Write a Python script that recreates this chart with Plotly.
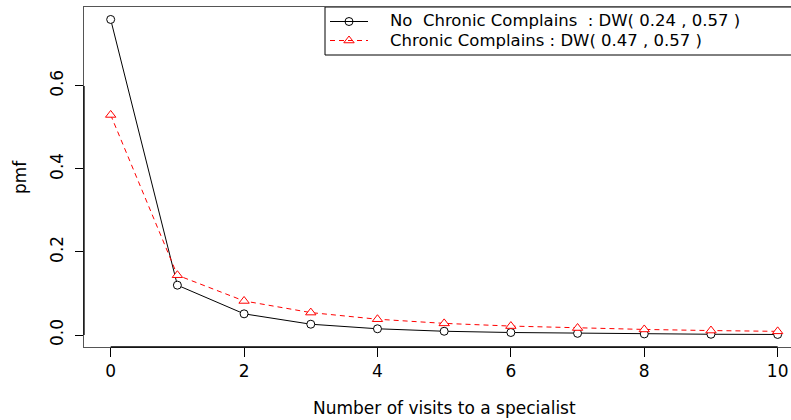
import plotly.graph_objects as go

# ---- data ----
visits = [0, 1, 2, 3, 4, 5, 6, 7, 8, 9, 10]
pmf_no_chronic = [0.760, 0.120, 0.051, 0.026, 0.015, 0.009, 0.006, 0.004, 0.0026, 0.0018, 0.0013]
pmf_chronic = [0.530, 0.144, 0.082, 0.054, 0.038, 0.028, 0.0215, 0.0168, 0.0134, 0.0107, 0.0088]
x_ticks = [0, 2, 4, 6, 8, 10]
y_ticks = [0.0, 0.2, 0.4, 0.6]
y_tick_labels = ["0.0", "0.2", "0.4", "0.6"]
legend_labels = ["No  Chronic Complains  : DW( 0.24 , 0.57 )",
                 "Chronic Complains : DW( 0.47 , 0.57 )"]
x_title = "Number of visits to a specialist"
y_title = "pmf"

FONT = "DejaVu Sans"
FS = 17
LFS = 16.5
W, H = 791, 420
L, R, T, B = 84, 0, 7, 73
PW, PH = W - L - R, H - T - B


def px(xp):
    return (xp - L) / PW


def py(yp):
    return (H - B - yp) / PH


fig = go.Figure()
fig.add_trace(go.Scatter(
    x=visits, y=pmf_no_chronic, mode="lines+markers",
    line=dict(color="black", width=1),
    marker=dict(symbol="circle", size=8, color="white", line=dict(color="black", width=1)),
    showlegend=False, cliponaxis=False))
fig.add_trace(go.Scatter(
    x=visits, y=pmf_chronic, mode="lines+markers",
    line=dict(color="red", width=1, dash="5px,4px"),
    marker=dict(symbol="triangle-up", size=9, color="white", line=dict(color="red", width=1)),
    showlegend=False, cliponaxis=False))

# legend glyphs on an overlay axis spanning the plot area (paper-like)
leg_text_y = [20.5, 40.5]
leg_y = [py(21.5), py(40.5)]
leg_sym_x = px(349)
fig.add_trace(go.Scatter(
    x=[leg_sym_x], y=[leg_y[0]], xaxis="x2", yaxis="y2", mode="markers",
    marker=dict(symbol="circle", size=8, color="white", line=dict(color="black", width=1)),
    showlegend=False, cliponaxis=False, hoverinfo="skip"))
fig.add_trace(go.Scatter(
    x=[leg_sym_x], y=[leg_y[1]], xaxis="x2", yaxis="y2", mode="markers",
    marker=dict(symbol="triangle-up", size=9, color="white", line=dict(color="red", width=1)),
    showlegend=False, cliponaxis=False, hoverinfo="skip"))

shapes = []
# legend box
shapes.append(dict(type="rect", xref="paper", yref="paper",
                   x0=px(325), x1=1.03, y0=py(55), y1=1.0,
                   line=dict(color="black", width=1), fillcolor="white", layer="below"))
shapes.append(dict(type="line", xref="paper", yref="paper",
                   x0=px(330), x1=px(368), y0=leg_y[0], y1=leg_y[0],
                   line=dict(color="black", width=1)))
shapes.append(dict(type="line", xref="paper", yref="paper",
                   x0=px(330), x1=px(368), y0=leg_y[1], y1=leg_y[1],
                   line=dict(color="red", width=1, dash="5px,4px")))
# R-style axis lines (first to last tick)
shapes.append(dict(type="line", xref="paper", yref="y", x0=0, x1=0,
                   y0=y_ticks[0], y1=y_ticks[-1], line=dict(color="black", width=1.3)))
shapes.append(dict(type="line", xref="x", yref="paper", x0=x_ticks[0], x1=x_ticks[-1],
                   y0=0, y1=0, line=dict(color="black", width=1.3)))

annotations = [
    dict(text=legend_labels[0], xref="paper", yref="paper", x=px(388), y=py(leg_text_y[0]),
         xanchor="left", yanchor="middle", showarrow=False,
         font=dict(family=FONT, size=LFS, color="black")),
    dict(text=legend_labels[1], xref="paper", yref="paper", x=px(388), y=py(leg_text_y[1]),
         xanchor="left", yanchor="middle", showarrow=False,
         font=dict(family=FONT, size=LFS, color="black")),
    dict(text=x_title, xref="paper", yref="paper", x=px(444), y=py(408),
         xanchor="center", yanchor="middle", showarrow=False,
         font=dict(family=FONT, size=FS, color="black")),
    dict(text=y_title, xref="paper", yref="paper", x=px(20), y=py(177),
         xanchor="center", yanchor="middle", showarrow=False, textangle=-90,
         font=dict(family=FONT, size=FS, color="black")),
]

fig.update_layout(
    width=W, height=H,
    margin=dict(l=L, r=R, t=T, b=B, pad=0),
    paper_bgcolor="white", plot_bgcolor="white",
    font=dict(family=FONT, size=FS, color="black"),
    shapes=shapes, annotations=annotations,
    xaxis=dict(range=[-0.4, 10.2], tickvals=x_ticks, ticktext=[str(v) for v in x_ticks],
               ticks="outside", ticklen=9, tickcolor="black", tickwidth=1,
               showgrid=False, zeroline=False, automargin=False,
               showline=True, mirror=True, linecolor="#555555", linewidth=1,
               tickfont=dict(family=FONT, size=FS, color="black")),
    yaxis=dict(range=[-0.0289, 0.790], tickvals=y_ticks, ticktext=y_tick_labels,
               ticks="outside", ticklen=8, tickcolor="black", tickwidth=1,
               tickangle=-90, showgrid=False, zeroline=False, automargin=False,
               showline=True, mirror=False, linecolor="#555555", linewidth=1,
               ticklabelstandoff=5,
               tickfont=dict(family=FONT, size=FS, color="black")),
    xaxis2=dict(range=[0, 1], overlaying="x", visible=False, fixedrange=True),
    yaxis2=dict(range=[0, 1], overlaying="y", visible=False, fixedrange=True),
    showlegend=False,
)

fig.write_html("out.html", config={"displayModeBar": False},
               post_script="document.body.style.margin='0';")
